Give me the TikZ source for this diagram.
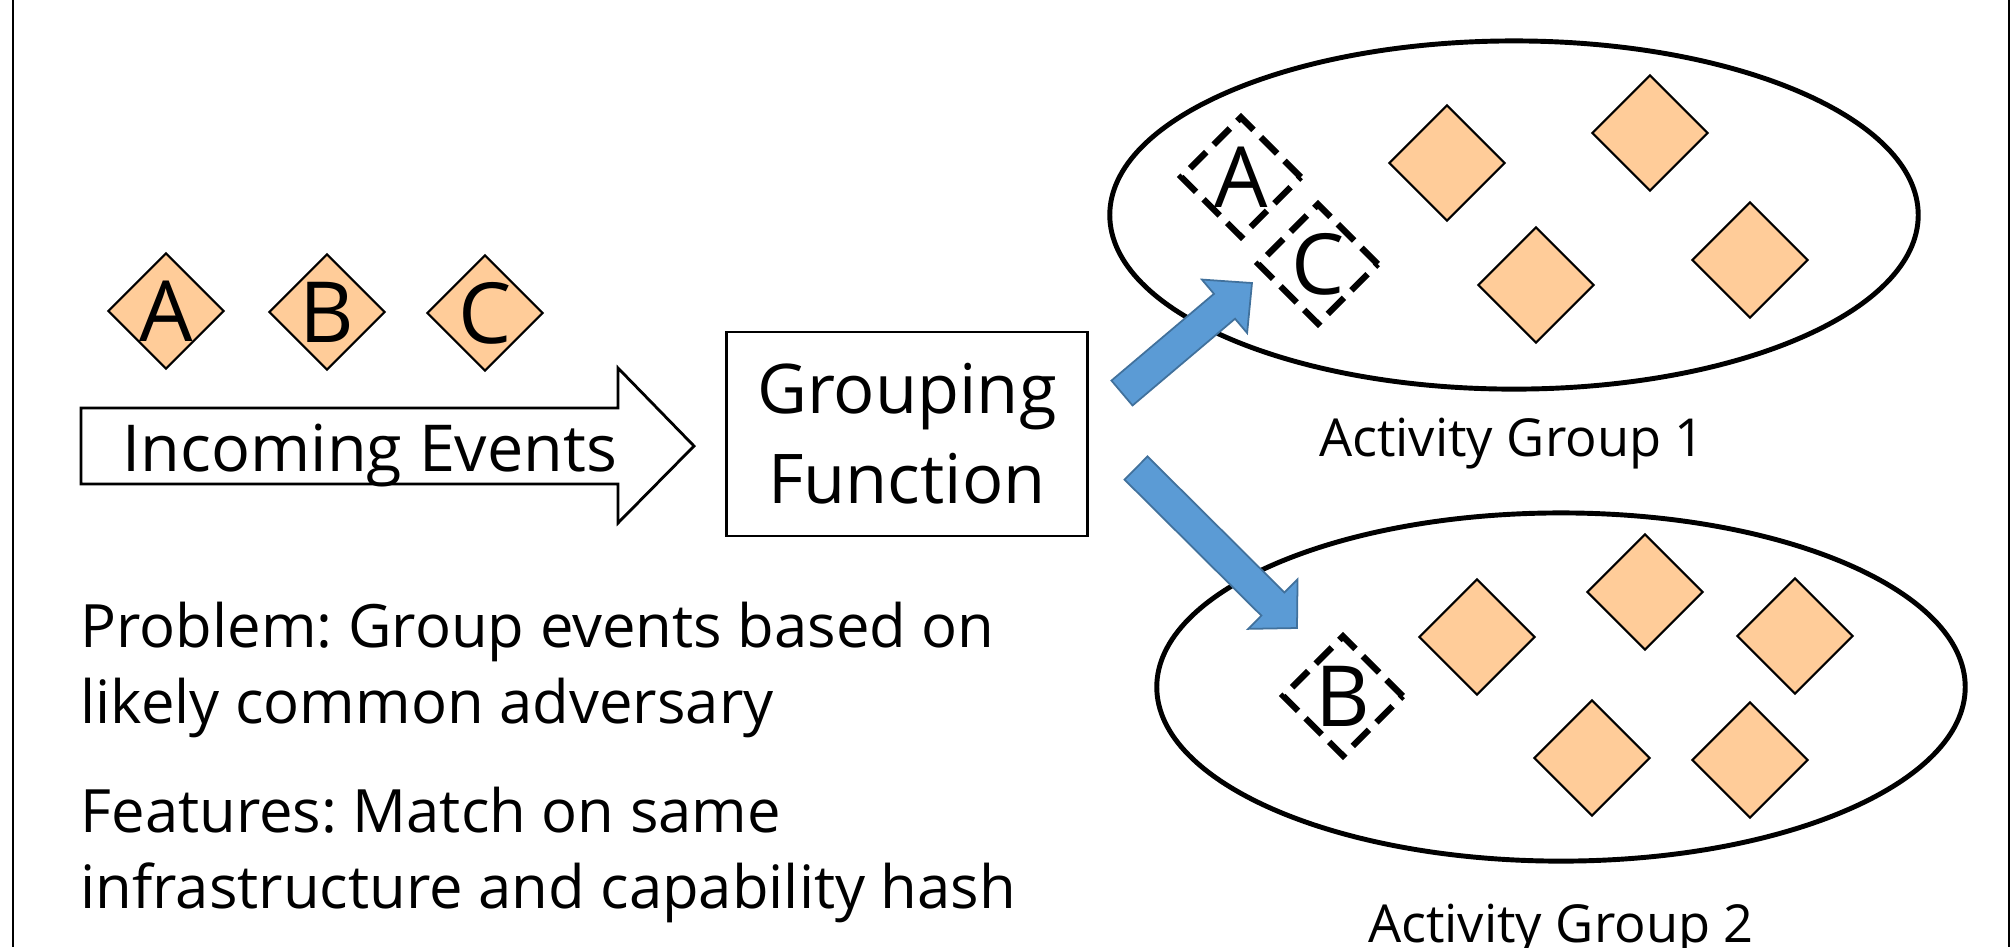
\documentclass[tikz,border=0pt]{standalone}
\usepackage{fontspec}
\setmainfont{Open Sans}
\usepackage{xcolor}
\usetikzlibrary{shapes.geometric, calc}

\definecolor{eventfill}{HTML}{FFCC99}
\definecolor{flowblue}{HTML}{5B9BD5}
\definecolor{flowline}{HTML}{41719C}

\frenchspacing

\begin{document}
\begin{tikzpicture}[
  x = 0.01cm, y = -0.01cm,
  every node/.style = {inner sep=0pt},
  bigtext/.style    = {font=\fontsize{19.5}{25.6}\selectfont},
  arrowtext/.style  = {font=\fontsize{18.4}{22}\selectfont},
  midtext/.style    = {font=\fontsize{17.0}{21.6}\selectfont},
  smalltext/.style  = {font=\fontsize{14.9}{18}\selectfont},
  letter/.style     = {font=\fontsize{24}{28}\selectfont},
  event/.style      = {diamond, draw, line width=0.6pt, fill=eventfill,
                       minimum size=1.16cm},
  picked/.style     = {diamond, draw, line width=1.8pt,
                       dash pattern=on 6.5pt off 3pt, minimum size=1.22cm},
  group/.style      = {ellipse, draw, line width=1.4pt,
                       minimum width=8.08cm, minimum height=3.48cm},
  flow/.style       = {fill=flowblue, draw=flowline, line width=0.5pt},
]

%% ── Canvas: 1 unit = 1 px of the slide ──────────────────────────────────
\useasboundingbox (0,0) rectangle (2011,947);
\draw[line width=0.8pt] (13,0) -- (13,947);
\draw[line width=0.8pt] (2009,0) -- (2009,947);

\def\shaft{0.163cm}   % half width of a blue arrow body
\def\barb{0.35cm}     % half width of a blue arrow head

% ── LEFT: INCOMING EVENTS ───────────────────────────────────────────────────
\node[event, label={[letter]center:A}] (evA) at (166,311) {};
\node[event, label={[letter]center:B}] (evB) at (327,312) {};
\node[event, label={[letter]center:C}] (evC) at (485,313) {};

\draw[line width=0.8pt]
  (81,408) -- (618,408) -- (618,368) -- (694,446) -- (618,523) -- (618,484)
  -- (81,484) -- cycle;
\node[arrowtext, anchor=base] (incoming) at (370,471) {Incoming Events};

% ── MIDDLE: GROUPING FUNCTION ───────────────────────────────────────────────
\node[draw, line width=0.8pt, bigtext, align=center,
      minimum width=3.61cm, minimum height=2.04cm]
  (grouping) at (907,434) {Grouping\\Function};

% Problem statement (base = last line)
\node[midtext, align=left, anchor=base west] (problem) at (80,723)
  {Problem: Group events based on\\likely common adversary};
\node[midtext, align=left, anchor=base west] (features) at (80,908)
  {Features: Match on same\\infrastructure and capability hash};

% ── RIGHT: ACTIVITY GROUPS ──────────────────────────────────────────────────
\node[group] (grp1) at (1514,215) {};
\node[group] (grp2) at (1561,687) {};

% Group 1: A and C land here
\node[picked, label={[letter]center:A}] (g1A) at (1241,177) {};
\node[picked, label={[letter]center:C}] (g1C) at (1318,264) {};
\node[event] (g1e1) at (1447,163) {};
\node[event] (g1e2) at (1650,133) {};
\node[event] (g1e3) at (1536,285) {};
\node[event] (g1e4) at (1750,260) {};

% Group 2: B lands here
\node[picked, label={[letter]center:B}] (g2B) at (1343,696) {};
\node[event] (g2e1) at (1477,637) {};
\node[event] (g2e2) at (1645,592) {};
\node[event] (g2e3) at (1795,636) {};
\node[event] (g2e4) at (1592,758) {};
\node[event] (g2e5) at (1750,760) {};

\node[smalltext, anchor=base] (lbl1) at (1512,456) {Activity Group 1};
\node[smalltext, anchor=base] (lbl2) at (1561,942) {Activity Group 2};

% ── Blue block arrows: grouping function -> groups ──────────────────────────
\coordinate (up0) at (1122,393);
\coordinate (up1) at (1252,283);
\coordinate (upN) at ($(up1)!0.36cm!(up0)$);
\draw[flow]
  ($(up0)!\shaft!90:(up1)$) -- ($(upN)!\shaft!90:(up1)$)
  -- ($(upN)!\barb!90:(up1)$) -- (up1) -- ($(upN)!\barb!-90:(up1)$)
  -- ($(upN)!\shaft!-90:(up1)$) -- ($(up0)!\shaft!-90:(up1)$) -- cycle;

\coordinate (dn0) at (1136,468);
\coordinate (dn1) at (1297,628);
\coordinate (dnN) at ($(dn1)!0.34cm!(dn0)$);
\draw[flow]
  ($(dn0)!\shaft!90:(dn1)$) -- ($(dnN)!\shaft!90:(dn1)$)
  -- ($(dnN)!\barb!90:(dn1)$) -- (dn1) -- ($(dnN)!\barb!-90:(dn1)$)
  -- ($(dnN)!\shaft!-90:(dn1)$) -- ($(dn0)!\shaft!-90:(dn1)$) -- cycle;

\end{tikzpicture}
\end{document}
